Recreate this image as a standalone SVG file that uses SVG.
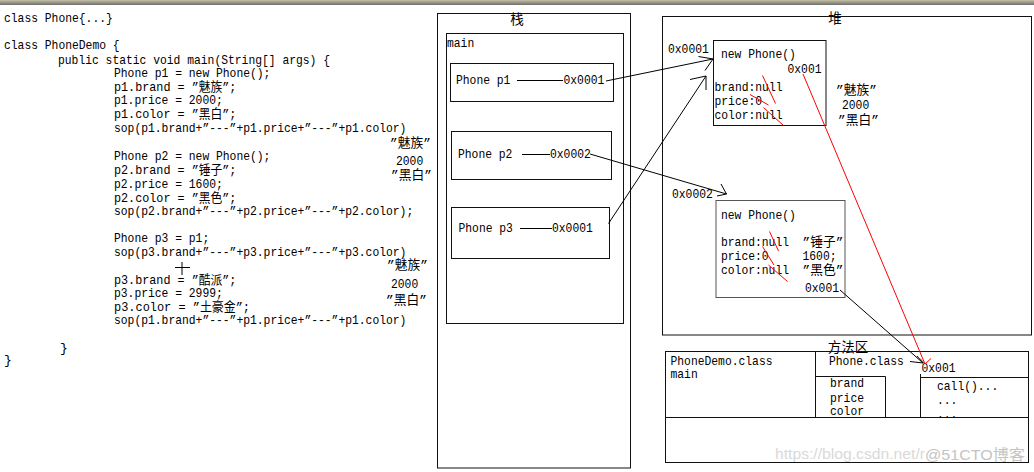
<svg xmlns="http://www.w3.org/2000/svg" width="1034" height="472" viewBox="0 0 1034 472">
<defs>
<linearGradient id="bar" x1="0" y1="0" x2="0" y2="1">
<stop offset="0" stop-color="#c4c0a4"/>
<stop offset="1" stop-color="#6e6e6e"/>
</linearGradient>
</defs>
<style>
.m{font-family:"Liberation Mono","Noto Sans CJK SC",monospace;font-size:13px;fill:#000}
.cj{font-family:"Noto Sans CJK SC","Liberation Sans",sans-serif;font-size:13.5px;fill:#000}
.box{fill:none;stroke:#111;stroke-width:1}
.gbox{fill:none;stroke:#555;stroke-width:1}
.ln{fill:none;stroke:#000;stroke-width:1}
.red{fill:none;stroke:#f00;stroke-width:1}
.wm{font-family:"Liberation Sans","Noto Sans CJK SC",sans-serif;font-size:15px}
</style>
<rect x="0" y="0" width="1034" height="472" fill="#fff"/>
<rect x="0" y="0" width="1034" height="5" fill="url(#bar)"/>

<g id="code">
<text class="m" x="4" y="22" textLength="108.8" lengthAdjust="spacingAndGlyphs">class Phone{...}</text>
<text class="m" x="4" y="49" textLength="115.6" lengthAdjust="spacingAndGlyphs">class PhoneDemo {</text>
<text class="m" x="58" y="64" textLength="272" lengthAdjust="spacingAndGlyphs">public static void main(String[] args) {</text>
<text class="m" x="114" y="77" textLength="156.4" lengthAdjust="spacingAndGlyphs">Phone p1 = new Phone();</text>
<text class="m" x="114" y="91" textLength="122.4" lengthAdjust="spacingAndGlyphs">p1.brand = ”魅族”;</text>
<text class="m" x="114" y="104" textLength="108.8" lengthAdjust="spacingAndGlyphs">p1.price = 2000;</text>
<text class="m" x="114" y="118" textLength="122.4" lengthAdjust="spacingAndGlyphs">p1.color = ”黑白”;</text>
<text class="m" x="114" y="132" textLength="292.4" lengthAdjust="spacingAndGlyphs">sop(p1.brand+”---”+p1.price+”---”+p1.color)</text>
<text class="m" x="390" y="147" textLength="40.8" lengthAdjust="spacingAndGlyphs">”魅族”</text>
<text class="m" x="396" y="165" textLength="27.2" lengthAdjust="spacingAndGlyphs">2000</text>
<text class="m" x="391" y="179" textLength="40.8" lengthAdjust="spacingAndGlyphs">”黑白”</text>
<text class="m" x="114" y="160" textLength="156.4" lengthAdjust="spacingAndGlyphs">Phone p2 = new Phone();</text>
<text class="m" x="114" y="174" textLength="122.4" lengthAdjust="spacingAndGlyphs">p2.brand = ”锤子”;</text>
<text class="m" x="114" y="188" textLength="108.8" lengthAdjust="spacingAndGlyphs">p2.price = 1600;</text>
<text class="m" x="114" y="202" textLength="122.4" lengthAdjust="spacingAndGlyphs">p2.color = ”黑色”;</text>
<text class="m" x="114" y="215" textLength="299.2" lengthAdjust="spacingAndGlyphs">sop(p2.brand+”---”+p2.price+”---”+p2.color);</text>
<text class="m" x="114" y="242" textLength="95.2" lengthAdjust="spacingAndGlyphs">Phone p3 = p1;</text>
<text class="m" x="114" y="256" textLength="292.4" lengthAdjust="spacingAndGlyphs">sop(p3.brand+”---”+p3.price+”---”+p3.color)</text>
<text class="m" x="387" y="269" textLength="40.8" lengthAdjust="spacingAndGlyphs">”魅族”</text>
<text class="m" x="391" y="288" textLength="27.2" lengthAdjust="spacingAndGlyphs">2000</text>
<text class="m" x="386" y="304" textLength="40.8" lengthAdjust="spacingAndGlyphs">”黑白”</text>
<text class="m" x="114" y="284" textLength="122.4" lengthAdjust="spacingAndGlyphs">p3.brand = ”酷派”;</text>
<text class="m" x="114" y="297" textLength="108.8" lengthAdjust="spacingAndGlyphs">p3.price = 2999;</text>
<text class="m" x="114" y="311" textLength="136" lengthAdjust="spacingAndGlyphs">p3.color = ”土豪金”;</text>
<text class="m" x="114" y="324" textLength="292.4" lengthAdjust="spacingAndGlyphs">sop(p1.brand+”---”+p1.price+”---”+p1.color)</text>
<text class="m" x="60" y="352">}</text>
<text class="m" x="4" y="364">}</text>
<path class="ln" d="M182 262V275M175 267.5H190"/>
</g>

<g id="stack">
<rect class="box" x="437.5" y="13.5" width="193" height="454.5"/>
<text class="cj" x="517" y="24" text-anchor="middle">栈</text>
<rect class="box" x="446.5" y="33.5" width="177" height="290"/>
<text class="m" x="447" y="47" textLength="27.2" lengthAdjust="spacingAndGlyphs">main</text>
</g>

<g id="frame-p1">
<rect class="box" x="450.5" y="63.5" width="163" height="38"/>
<text class="m" x="456" y="84" textLength="54.4" lengthAdjust="spacingAndGlyphs">Phone p1</text>
<path class="ln" d="M517 80.5H563"/>
<text class="m" x="563.5" y="84" textLength="40.8" lengthAdjust="spacingAndGlyphs">0x0001</text>
</g>

<g id="frame-p2">
<rect class="box" x="451.5" y="131.5" width="160" height="48"/>
<text class="m" x="458" y="158" textLength="54.4" lengthAdjust="spacingAndGlyphs">Phone p2</text>
<path class="ln" d="M522 154.5H550"/>
<text class="m" x="550" y="158" textLength="40.8" lengthAdjust="spacingAndGlyphs">0x0002</text>
</g>

<g id="frame-p3">
<rect class="box" x="451.5" y="207.5" width="158" height="51"/>
<text class="m" x="458.5" y="232" textLength="54.4" lengthAdjust="spacingAndGlyphs">Phone p3</text>
<path class="ln" d="M520 228.5H552"/>
<text class="m" x="552" y="232" textLength="40.8" lengthAdjust="spacingAndGlyphs">0x0001</text>
</g>

<g id="heap">
<rect class="box" x="662.5" y="16.5" width="369" height="318.5"/>
<text class="cj" x="835" y="23" text-anchor="middle">堆</text>
<text class="m" x="668" y="53" textLength="40.8" lengthAdjust="spacingAndGlyphs">0x0001</text>
<text class="m" x="672" y="197.5" textLength="40.8" lengthAdjust="spacingAndGlyphs">0x0002</text>
</g>

<g id="obj1">
<rect class="box" x="713.5" y="40.5" width="112.5" height="85"/>
<text class="m" x="721" y="57.5" textLength="74.8" lengthAdjust="spacingAndGlyphs">new Phone()</text>
<text class="m" x="787.5" y="72.5" textLength="34" lengthAdjust="spacingAndGlyphs">0x001</text>
<text class="m" x="714.5" y="91" textLength="68" lengthAdjust="spacingAndGlyphs">brand:null</text>
<text class="m" x="714.5" y="104.5" textLength="47.6" lengthAdjust="spacingAndGlyphs">price:0</text>
<text class="m" x="714.5" y="118.5" textLength="68" lengthAdjust="spacingAndGlyphs">color:null</text>
<text class="m" x="836" y="93.5" textLength="40.8" lengthAdjust="spacingAndGlyphs">”魅族”</text>
<text class="m" x="842" y="109" textLength="27.2" lengthAdjust="spacingAndGlyphs">2000</text>
<text class="m" x="838" y="123.5" textLength="40.8" lengthAdjust="spacingAndGlyphs">”黑白”</text>
<path class="red" d="M762.5 75.5L775.5 103.5M750 94.5L768.5 105M763.5 107.5L783.5 125.5"/>
</g>

<g id="obj2">
<rect class="gbox" x="716" y="200.5" width="129" height="97"/>
<text class="m" x="721" y="218.5" textLength="74.8" lengthAdjust="spacingAndGlyphs">new Phone()</text>
<text class="m" x="721" y="246" textLength="68" lengthAdjust="spacingAndGlyphs">brand:null</text>
<text class="m" x="721" y="260" textLength="47.6" lengthAdjust="spacingAndGlyphs">price:0</text>
<text class="m" x="721" y="273.5" textLength="68" lengthAdjust="spacingAndGlyphs">color:null</text>
<text class="m" x="802.5" y="246" textLength="40.8" lengthAdjust="spacingAndGlyphs">”锤子”</text>
<text class="m" x="802.5" y="260" textLength="34" lengthAdjust="spacingAndGlyphs">1600;</text>
<text class="m" x="802.5" y="273.5" textLength="40.8" lengthAdjust="spacingAndGlyphs">”黑色”</text>
<text class="m" x="805" y="291.5" textLength="34" lengthAdjust="spacingAndGlyphs">0x001</text>
<path class="red" d="M769.5 231.5L778.5 251M762.5 246.5L774 265M768.5 265L787.5 281.5"/>
</g>

<g id="method-area">
<text class="cj" x="848" y="352" text-anchor="middle">方法区</text>
<rect class="box" x="665.5" y="351.5" width="363" height="111"/>
<path class="box" d="M665.5 417.5H1028.5M815.5 351.5V417.5M815.5 376.5H885.5V417.5M920.5 374V417.5M920.5 377.5H1028.5"/>
<text class="m" x="670.5" y="365" textLength="102" lengthAdjust="spacingAndGlyphs">PhoneDemo.class</text>
<text class="m" x="670.5" y="378" textLength="27.2" lengthAdjust="spacingAndGlyphs">main</text>
<text class="m" x="829" y="365" textLength="74.8" lengthAdjust="spacingAndGlyphs">Phone.class</text>
<text class="m" x="921.5" y="372" textLength="34" lengthAdjust="spacingAndGlyphs">0x001</text>
<text class="m" x="830" y="387" textLength="34" lengthAdjust="spacingAndGlyphs">brand</text>
<text class="m" x="830" y="401.5" textLength="34" lengthAdjust="spacingAndGlyphs">price</text>
<text class="m" x="830" y="415" textLength="34" lengthAdjust="spacingAndGlyphs">color</text>
<text class="m" x="937" y="390" textLength="61.2" lengthAdjust="spacingAndGlyphs">call()...</text>
<text class="m" x="937" y="404" textLength="20.4" lengthAdjust="spacingAndGlyphs">...</text>
<text class="m" x="937" y="418" font-size="11" textLength="20.4" lengthAdjust="spacingAndGlyphs">...</text>
<text class="wm" x="775" y="459" fill="#d9d9d9" textLength="150" lengthAdjust="spacingAndGlyphs">https://blog.csdn.net/r</text>
<text class="wm" x="925" y="460" fill="#c4c4c4" textLength="100" lengthAdjust="spacingAndGlyphs">@51CTO博客</text>
</g>

<g id="connectors">
<path class="ln" d="M606 81L713 59M698.5 56.5L713 59L705 70.5"/>
<path class="ln" d="M608.5 223.5L706 76M690 79.5L706 76V90"/>
<path class="ln" d="M590 154L726.5 194M721 184L726.5 194L717 196"/>
<path class="ln" d="M840 290L923 363M910 361.5L923 363L917 356"/>
<path class="red" d="M803 74L925 364M920 358.5L925 364L931 358.5"/>
</g>
</svg>
